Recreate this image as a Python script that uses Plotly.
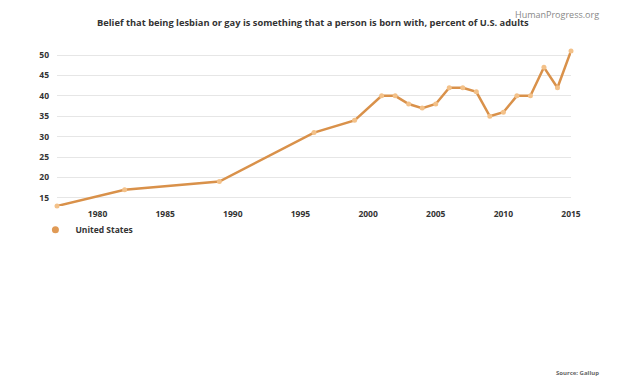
import plotly.graph_objects as go

years = [1977, 1982, 1989, 1996, 1999, 2001, 2002, 2003, 2004, 2005, 2006, 2007,
         2008, 2009, 2010, 2011, 2012, 2013, 2014, 2015]
values = [13, 17, 19, 31, 34, 40, 40, 38, 37, 38, 42, 42, 41, 35, 36, 40, 40, 47, 42, 51]
x_ticks = [1980, 1985, 1990, 1995, 2000, 2005, 2010, 2015]
y_ticks = [15, 20, 25, 30, 35, 40, 45, 50]

fig = go.Figure()
fig.add_trace(go.Scatter(
    x=years, y=values, mode="lines+markers", name="United States",
    line=dict(color="#d9914a", width=2.5),
    marker=dict(color="#f3c189", size=5, line=dict(width=0)),
    cliponaxis=False, showlegend=False,
))
fig.add_trace(go.Scatter(
    x=[None], y=[None], mode="markers", name="<b>United States</b>",
    marker=dict(color="#e09a55", size=7), showlegend=True,
))
fig.update_layout(
    width=616, height=378,
    margin=dict(l=49, r=53, t=43, b=180),
    paper_bgcolor="white", plot_bgcolor="white",
    font=dict(family="Open Sans", color="#333"),
    showlegend=True,
    legend=dict(x=-0.042, y=-0.06, xanchor="left", yanchor="top",
                bgcolor="rgba(0,0,0,0)",
                font=dict(size=8.5, color="#333", family="Open Sans"),
                orientation="h", itemwidth=30),
    xaxis=dict(range=[1977, 2015], tickvals=x_ticks, showgrid=False, zeroline=False,
               showline=False, ticks="", automargin=False,
               tickfont=dict(size=8.5, color="#333", weight="bold"),
               ticklabelstandoff=1),
    yaxis=dict(range=[13, 51], tickvals=y_ticks, showgrid=True, gridcolor="#e6e6e6",
               zeroline=False, showline=False, ticks="", automargin=False,
               tickfont=dict(size=8.5, color="#333", weight="bold"),
               ticklabelstandoff=7),
)
fig.add_annotation(text="<b>Belief that being lesbian or gay is something that a person is born with, percent of U.S. adults</b>",
                   xref="paper", yref="paper", x=0.5, y=1, xshift=-1, yshift=29, showarrow=False,
                   font=dict(size=9.3, color="#333"), xanchor="center", yanchor="middle")
fig.add_annotation(text="HumanProgress.org", xref="paper", yref="paper", x=1, xshift=30,
                   y=1, yshift=37, showarrow=False, xanchor="right", yanchor="middle",
                   font=dict(size=9, color="#888"))
fig.add_annotation(text="<b>Source: Gallup</b>", xref="paper", yref="paper", x=1, xshift=30,
                   y=0, yshift=-167, showarrow=False, xanchor="right", yanchor="middle",
                   font=dict(size=6, color="#666"))
fig.write_html("out.html")
